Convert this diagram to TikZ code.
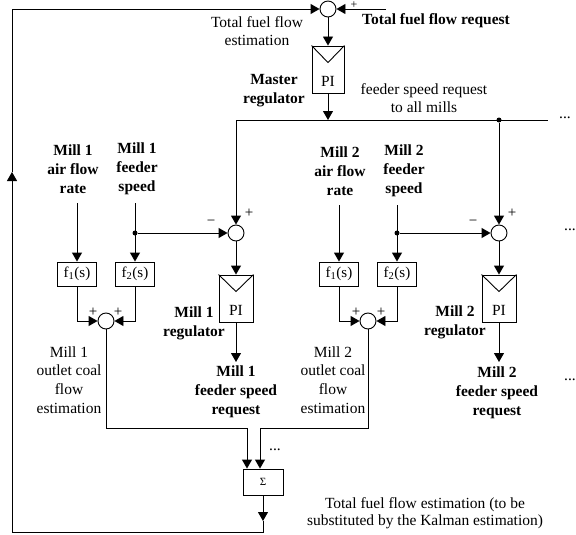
\documentclass[tikz,border=0pt]{standalone}
\usepackage{fontspec}
\setmainfont{Liberation Serif}
\usetikzlibrary{arrows.meta,calc}
\begin{document}
\begin{tikzpicture}[x=1pt,y=-1pt,
  line width=0.9pt,
  arr/.style={-{Triangle[length=9pt,width=10pt]}},
  sumc/.style={circle,draw,minimum size=16pt,inner sep=0pt},
  blk/.style={draw,inner sep=0pt},
  txt/.style={align=center,inner sep=0pt,font=\fontsize{15.5}{18.7}\selectfont},
  btxt/.style={align=center,inner sep=0pt,font=\fontsize{15.5}{19}\selectfont\bfseries},
  dotn/.style={circle,fill,inner sep=0pt,minimum size=5pt},
  sgn/.style={inner sep=0pt,font=\fontsize{15}{15}\selectfont},
  pibox/.style={blk,minimum width=34pt,minimum height=47pt},
  fbox/.style={blk,minimum width=39pt,minimum height=24pt,font=\fontsize{15}{15}\selectfont}
]
\useasboundingbox (0,0) rectangle (576,535);

% master loop
\node[sumc] (sM) at (328,9) {};
\node[blk,minimum width=32pt,minimum height=47pt] (pM) at (328,69.5) {};
\draw (pM.north west) -- ($(pM.north)+(0,17)$) -- (pM.north east);
\node[txt] (pMt) at (328,81) {PI};
\coordinate (rin) at (386,9);
\draw[arr] (rin) -- (sM.east);
\node[inner sep=0pt,font=\fontsize{12}{12}\selectfont] (pl0) at (354,5) {+};
\node[btxt] (tffr) at (436,21) {Total fuel flow request};
\node[align=center,inner sep=0pt,font=\fontsize{15.5}{17.5}\selectfont] (tffe) at (257,31) {Total fuel flow\\estimation};
\draw[arr] (sM) -- (pM);
\node[btxt] (mreg) at (274,91) {Master\\regulator};
\coordinate (bus) at (328,120);
\draw[arr] (pM) -- (bus);
\coordinate (busL) at (236,120);
\coordinate (busR) at (548,120);
\draw (busL) -- (busR);
\node[dotn] (d2) at (499,120) {};
\node[txt] (fsr) at (424,98) {feeder speed request\\to all mills};
\node[txt] (dots0) at (565,118) {...};

% mill 1
\node[sumc] (s1) at (236,233) {};
\draw[arr] (busL) -- (s1);
\node[sgn] (p1) at (249,213) {+};
\node[sgn] (m1) at (211,223) {−};
\node[btxt] (a1) at (73,169) {Mill 1\\air flow\\rate};
\node[btxt] (fd1) at (137,169) {Mill 1\\feeder\\speed};
\node[fbox] (f11) at (77,274) {f\textsubscript{1}(s)};
\node[fbox] (f12) at (135,274) {f\textsubscript{2}(s)};
\coordinate (a1s) at (77,203);
\coordinate (fd1s) at (135,203);
\draw[arr] (a1s) -- (f11);
\draw[arr] (fd1s) -- (f12);
\node[dotn] (d1) at (135,233) {};
\draw[arr] (d1) -- (s1);
\node[sumc] (c1) at (106,321) {};
\draw[arr] (f11) |- (c1);
\draw[arr] (f12) |- (c1);
\node[sgn] (c1p1) at (93,312) {+};
\node[sgn] (c1p2) at (118,312) {+};
\node[pibox] (pi1) at (236,298.5) {};
\draw (pi1.north west) -- ($(pi1.north)+(0,17)$) -- (pi1.north east);
\node[txt] (pi1t) at (236,310) {PI};
\draw[arr] (s1) -- (pi1);
\coordinate (o1) at (236,362);
\draw[arr] (pi1) -- (o1);
\node[btxt] (r1) at (194,323) {Mill 1\\regulator};
\node[btxt] (fr1) at (236,392) {Mill 1\\feeder speed\\request};
\node[txt] (oc1) at (69,380) {Mill 1\\outlet coal\\flow\\estimation};

% mill 2
\node[sumc] (s2) at (499,233) {};
\draw[arr] (d2) -- (s2);
\node[sgn] (p2) at (512,213) {+};
\node[sgn] (m2) at (473,223) {−};
\node[btxt] (a2) at (340,171) {Mill 2\\air flow\\rate};
\node[btxt] (fd2) at (404,171) {Mill 2\\feeder\\speed};
\node[fbox] (f21) at (339,274) {f\textsubscript{1}(s)};
\node[fbox] (f22) at (397,274) {f\textsubscript{2}(s)};
\coordinate (a2s) at (339,205);
\coordinate (fd2s) at (397,205);
\draw[arr] (a2s) -- (f21);
\draw[arr] (fd2s) -- (f22);
\node[dotn] (dd2) at (397,233) {};
\draw[arr] (dd2) -- (s2);
\node[sumc] (c2) at (368,321) {};
\draw[arr] (f21) |- (c2);
\draw[arr] (f22) |- (c2);
\node[sgn] (c2p1) at (356,312) {+};
\node[sgn] (c2p2) at (381,312) {+};
\node[pibox] (pi2) at (499,298.5) {};
\draw (pi2.north west) -- ($(pi2.north)+(0,17)$) -- (pi2.north east);
\node[txt] (pi2t) at (499,310) {PI};
\draw[arr] (s2) -- (pi2);
\coordinate (o2) at (499,362);
\draw[arr] (pi2) -- (o2);
\node[btxt] (r2) at (455,322) {Mill 2\\regulator};
\node[btxt] (fr2) at (497,393) {Mill 2\\feeder speed\\request};
\node[txt] (oc2) at (333,380) {Mill 2\\outlet coal\\flow\\estimation};

\node[txt] (dots1) at (570,230) {...};
\node[txt] (dots2) at (570,380) {...};

% sum of estimations
\node[blk,minimum width=40pt,minimum height=26pt,font=\fontsize{11}{11}\selectfont] (sg) at (263,482) {Σ};
\coordinate (j1) at (247,428);
\coordinate (j2) at (260,428);
\draw (c1) |- (j1);
\draw[arr] (j1) -- (j1 |- sg.north);
\draw (c2) |- (j2);
\draw[arr] (j2) -- (j2 |- sg.north);
\node[txt] (dots3) at (275,450) {...};

% feedback
\coordinate (fa) at (263,521);
\coordinate (fb) at (263,532);
\coordinate (fc) at (12,532);
\coordinate (fd) at (12,172);
\coordinate (fe) at (12,9);
\draw[arr] (sg) -- (fa);
\draw (fa) -- (fb) -- (fc);
\draw[arr] (fc) -- (fd);
\draw (fd) -- (fe);
\draw[arr] (fe) -- (sM);
\node[align=center,inner sep=0pt,font=\fontsize{15.5}{17}\selectfont] (kal) at (425,513) {Total fuel flow estimation (to be\\substituted by the Kalman estimation)};
\end{tikzpicture}
\end{document}
